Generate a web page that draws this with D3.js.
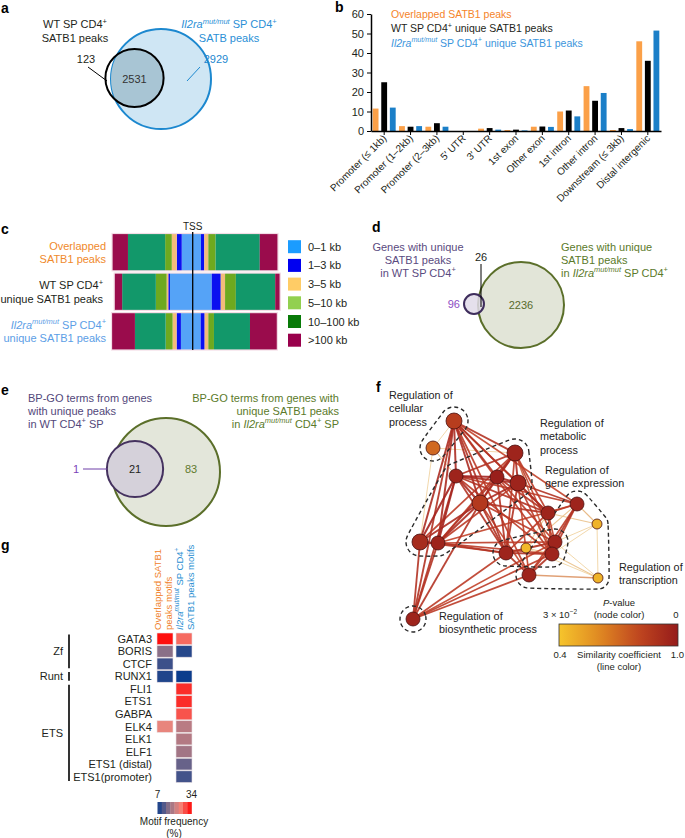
<!DOCTYPE html>
<html><head><meta charset="utf-8">
<script src="https://cdn.jsdelivr.net/npm/d3@7"></script>
<style>body{margin:0;background:#fff}svg{display:block;font-family:"Liberation Sans",Arial,Helvetica,sans-serif}</style>
</head><body><svg id="chart" width="685" height="838"></svg>
<script>
// ---------------- DATA ----------------
// a: Venn of SATB1 peaks  [only WT, overlap, only Il2ra mut]
const vennACounts = [123, 2531, 2929];
// b: genomic annotation (%)
const annotCategories = ["Promoter (\u2264 1kb)", "Promoter (1\u20132kb)", "Promoter (2\u20133kb)", "5\u2032 UTR", "3\u2032 UTR", "1st exon", "Other exon", "1st intron", "Other intron", "Downstream (\u2264 3kb)", "Distal intergenic"];
const annotSeriesNames = ["Overlapped SATB1 peaks", "WT SP CD4<sup>+</sup> unique SATB1 peaks", "<i>Il2ra</i><sup><i>mut/mut</i></sup> SP CD4<sup>+</sup> unique SATB1 peaks"];
const overlappedPct = [11.5, 2.5, 2.2, 0, 1.2, 0.5, 2.2, 10, 23, 0.5, 46];
const wtUniquePct = [25, 2.2, 4, 0, 1.5, 0.7, 2.3, 10.5, 15.5, 1.5, 36];
const mutUniquePct = [12, 2.5, 2.2, 0, 0.7, 0.3, 2.1, 7.5, 19.5, 1, 51.5];
const yTicksB = [0, 10, 20, 30, 40, 50, 60];
// c: distance to TSS (% of peaks), order 0-1,1-3,3-5,5-10,10-100,>100
const distCategories = ["0\u20131 kb", "1\u20133 kb", "3\u20135 kb", "5\u201310 kb", "10\u2013100 kb", ">100 kb"];
const distRows = ["Overlapped|SATB1 peaks", "WT SP CD4<sup>+</sup>|unique SATB1 peaks", "<i>Il2ra</i><sup><i>mut/mut</i></sup> SP CD4<sup>+</sup>|unique SATB1 peaks"];
const distUpstream = [[6.6, 3.0, 3.0, 4.0, 22.4, 9.6], [13.7, 1.0, 1.0, 6.5, 20.3, 4.8], [7.1, 2.6, 2.4, 4.2, 18.5, 14.1]];
const distDownstream = [[5.0, 2.0, 2.4, 4.4, 26.6, 11.0], [11.5, 5.4, 2.6, 6.5, 23.7, 3.0], [4.8, 2.4, 2.2, 3.4, 21.7, 16.5]];
// d: genes Venn [only WT, overlap, only mut]
const vennDCounts = [96, 26, 2236];
// e: BP-GO terms Venn [only WT, overlap, only mut]
const vennECounts = [1, 21, 83];
// f: GO network
const goNodeX = [54, 33, 115, 56, 97, 118, 80, 148, 177, 197, 20, 38, 106, 126, 155, 152, 129, 198, 13];
const goNodeY = [21, 48, 53, 76, 77, 83, 103, 113, 104, 124, 142, 143, 153, 148, 142, 154, 175, 178, 219];
const goNodeP = [0.008, 0.015, 0.002, 0.002, 0.001, 0.002, 0.007, 0.002, 0.002, 0.027, 0.004, 0.002, 0.002, 0.028, 0.002, 0.002, 0.002, 0.027, 0.002];
const goNodeSize = [64, 49, 64, 49, 49, 64, 64, 49, 49, 25, 64, 49, 49, 25, 49, 49, 49, 25, 49];
const goEdges = [
 [0,2,.85],[0,3,.9],[0,4,.85],[0,5,.85],[0,6,.9],[0,7,.8],[0,10,.9],[0,11,.9],[0,12,.85],[0,15,.8],[0,16,.8],[0,18,.85],[0,1,.45],[0,8,.75],
 [1,3,.5],[1,10,.45],[1,2,.45],
 [2,3,.85],[2,4,.9],[2,5,.9],[2,6,.85],[2,7,.8],[2,10,.8],[2,11,.8],[2,12,.8],[2,14,.75],[2,15,.7],
 [3,4,.95],[3,5,.9],[3,6,.9],[3,7,.85],[3,10,.95],[3,11,.95],[3,12,.85],[3,15,.8],[3,18,.85],[3,8,.8],
 [4,5,.95],[4,6,.9],[4,7,.85],[4,11,.85],[4,12,.85],[4,14,.8],
 [5,6,.9],[5,7,.9],[5,8,.85],[5,12,.85],[5,15,.8],[5,16,.75],[5,11,.8],
 [6,7,.85],[6,10,.9],[6,11,.9],[6,12,.85],[6,14,.8],[6,18,.85],[6,16,.75],
 [7,8,.8],[7,14,.75],[7,15,.8],[7,12,.8],[7,9,.5],[7,13,.5],
 [8,9,.55],[8,14,.85],[8,15,.8],[8,16,.8],[8,13,.5],[8,11,.75],
 [9,17,.45],[9,14,.45],[9,15,.45],
 [10,11,.95],[10,18,.85],[11,18,.85],[11,12,.85],[10,12,.8],[11,15,.8],[11,14,.8],
 [12,13,.5],[12,14,.85],[12,15,.85],[12,16,.85],[12,18,.8],
 [13,14,.5],[13,15,.5],[13,16,.45],[13,17,.45],
 [14,15,.95],[14,16,.8],[15,16,.85],[14,17,.45],[15,17,.5],
 [16,17,.6],[16,18,.8],[18,15,.8],[18,14,.75]
];
const goGroups = [[0,1],[2,3,4,5,6,10,11],[12,13,14,15],[8,9,16,17],[18]];
const goGroupLabels = ["Regulation of|cellular|process", "Regulation of|metabolic|process", "Regulation of|gene expression", "Regulation of|transcription", "Regulation of|biosynthetic process"];
// g: motif heatmap (motif frequency %)
const motifNames = ["GATA3", "BORIS", "CTCF", "RUNX1", "FLI1", "ETS1", "GABPA", "ELK4", "ELK1", "ELF1", "ETS1 (distal)", "ETS1(promoter)"];
const familyNames = ["Zf", "Runt", "ETS"];
const familyFirst = [0, 3, 4];
const familyLast = [2, 3, 11];
const overlappedMotifFreq = [33, 16, 10.5, 8.5, null, null, null, 24, null, null, null, null];
const mutMotifFreq = [27, 9, null, 7, 31, 31, 28.5, 20, 19.5, 18, 13.5, 11];

// ---------------- HELPERS ----------------
const svg = d3.select("#chart");
const INK = "#231f20";
const FS = 11;
function rich(t, str, fs) {
  const parts = str.split(/(<\/?i>|<\/?sup>)/);
  let it = false, sup = false, shifted = false;
  for (const p of parts) {
    if (p === "<i>") it = true; else if (p === "</i>") it = false;
    else if (p === "<sup>") sup = true; else if (p === "</sup>") sup = false;
    else if (p) {
      const ts = t.append("tspan").text(p);
      if (it) ts.attr("font-style", "italic");
      if (sup && !shifted) { ts.attr("dy", -fs * 0.4); shifted = true; }
      else if (!sup && shifted) { ts.attr("dy", fs * 0.4); shifted = false; }
      if (sup) ts.attr("font-size", fs * 0.68);
    }
  }
  return t;
}
function txt(g, x, y, str, o = {}) {
  const fs = o.size || FS;
  const t = g.append("text").attr("x", x).attr("y", y).attr("font-size", fs)
    .attr("fill", o.color || INK).attr("text-anchor", o.anchor || "start");
  if (o.weight) t.attr("font-weight", o.weight);
  if (o.transform) t.attr("transform", o.transform);
  rich(t, str, fs);
  return t;
}
function lines(g, x, y, str, lh, o) {
  str.split("|").forEach((s, i) => txt(g, x, y + i * lh, s, o));
}
function panelLabel(l, x, y) { txt(svg, x, y, l, { size: 14, weight: "bold", color: "#000" }); }

// ---------------- PANEL A ----------------
{
  const g = svg.append("g");
  panelLabel("a", 1, 13);
  const wtTotal = vennACounts[0] + vennACounts[1], mutTotal = vennACounts[1] + vennACounts[2];
  const r = d3.scalePow().exponent(0.75).domain([0, mutTotal]).range([0, 50]);
  const cMut = [161, 79], cWT = [134.5, 78];
  g.append("clipPath").attr("id", "clipA").append("circle").attr("cx", cMut[0]).attr("cy", cMut[1]).attr("r", r(mutTotal));
  g.append("circle").attr("cx", cMut[0]).attr("cy", cMut[1]).attr("r", r(mutTotal)).attr("fill", "#cfe6f4").attr("stroke", "#1c88cf").attr("stroke-width", 2);
  g.append("circle").attr("cx", cWT[0]).attr("cy", cWT[1]).attr("r", r(wtTotal)).attr("fill", "#a8c5d4").attr("clip-path", "url(#clipA)");
  g.append("circle").attr("cx", cWT[0]).attr("cy", cWT[1]).attr("r", r(wtTotal)).attr("fill", "none").attr("stroke", "#000").attr("stroke-width", 2);
  lines(g, 75, 28, "WT SP CD4<sup>+</sup>|SATB1 peaks", 14, { anchor: "middle" });
  lines(g, 229, 28, "<i>Il2ra</i><sup><i>mut/mut</i></sup> SP CD4<sup>+</sup>|SATB peaks", 14, { anchor: "middle", color: "#2a8fd6" });
  txt(g, 86, 63, String(vennACounts[0]), { anchor: "middle" });
  txt(g, cWT[0], 83, String(vennACounts[1]), { anchor: "middle", color: "#333" });
  txt(g, 216, 63, String(vennACounts[2]), { anchor: "middle", color: "#1c88cf" });
  g.append("line").attr("x1", 88).attr("y1", 67).attr("x2", 107).attr("y2", 81).attr("stroke", "#000").attr("stroke-width", 1);
  g.append("line").attr("x1", 200).attr("y1", 67).attr("x2", 187).attr("y2", 81).attr("stroke", "#1c88cf").attr("stroke-width", 1);
}

// ---------------- PANEL B ----------------
{
  const g = svg.append("g");
  panelLabel("b", 335, 12);
  const x = d3.scaleBand().domain(annotCategories).range([371, 661]);
  const y = d3.scaleLinear().domain([0, 60]).range([131, 14]);
  const sub = d3.scaleBand().domain([0, 1, 2]).range([-11.5, 11.5]).paddingInner(0.32);
  const series = [overlappedPct, wtUniquePct, mutUniquePct];
  const cols = ["#fba048", "#000000", "#1b7fc8"];
  series.forEach((s, si) => {
    g.selectAll(null).data(s).join("rect")
      .attr("x", (d, i) => x(annotCategories[i]) + x.bandwidth() / 2 + sub(si))
      .attr("width", sub.bandwidth())
      .attr("y", d => y(d)).attr("height", d => y(0) - y(d)).attr("fill", cols[si]);
  });
  const ya = g.append("g").attr("transform", "translate(371,0)").call(d3.axisLeft(y).tickValues(yTicksB).tickSize(4).tickSizeOuter(0));
  ya.select(".domain").attr("stroke-width", 1.5);
  ya.selectAll("text").attr("font-size", 11).attr("fill", INK).attr("font-family", "inherit");
  const xa = g.append("g").attr("transform", "translate(0,131)").call(d3.axisBottom(x).tickSize(4).tickSizeOuter(0).tickFormat(""));
  xa.select(".domain").attr("stroke-width", 1.5);
  annotCategories.forEach(c => {
    txt(g, 0, 0, c, { size: 10, anchor: "end", transform: `translate(${x(c) + x.bandwidth() / 2 + 3},139) rotate(-45)` });
  });
  const lc = ["#f5842a", INK, "#3b95dc"];
  annotSeriesNames.forEach((n, i) => txt(g, 391, 18 + i * 14.3, n, { size: 10.5, color: lc[i] }));
}

// ---------------- PANEL C ----------------
{
  const g = svg.append("g");
  panelLabel("c", 1, 234);
  const barCols = ["#55a3f7", "#0a10f0", "#f4bc7a", "#6ea91f", "#12986a", "#9a0c4c"];
  const legCols = ["#1b9cff", "#0000f0", "#ffcc66", "#92d050", "#087a08", "#99004c"];
  const w = d3.scaleLinear().domain([0, 100]).range([0, 166]);
  const yr = d3.scaleBand().domain([0, 1, 2]).range([233.5, 350]).paddingInner(0.055);
  const tssX = 192.7;
  distRows.forEach((rowName, ri) => {
    let xl = tssX;
    distUpstream[ri].forEach((v, k) => {
      g.append("rect").attr("x", xl - w(v)).attr("width", w(v)).attr("y", yr(ri)).attr("height", yr.bandwidth()).attr("fill", barCols[k]);
      xl -= w(v);
    });
    let xr = tssX;
    distDownstream[ri].forEach((v, k) => {
      g.append("rect").attr("x", xr).attr("width", w(v)).attr("y", yr(ri)).attr("height", yr.bandwidth()).attr("fill", barCols[k]);
      xr += w(v);
    });
    g.append("rect").attr("x", xl).attr("width", xr - xl).attr("y", yr(ri)).attr("height", yr.bandwidth())
      .attr("fill", "none").attr("stroke", "#f3dde6").attr("stroke-width", 1.2);
    const lc = ["#f08a2c", INK, "#5c9ee6"][ri];
    const rx = [106, 103, 106][ri];
    const yc = yr(ri) + yr.bandwidth() / 2;
    lines(g, rx, yc - 2.5, rowName, 13.5, { anchor: "end", color: lc });
  });
  g.append("line").attr("x1", tssX).attr("x2", tssX).attr("y1", 232).attr("y2", 350).attr("stroke", "#000").attr("stroke-width", 1.3);
  txt(g, tssX, 230, "TSS", { size: 10, anchor: "middle" });
  distCategories.forEach((c, k) => {
    const cy = 246.7 + k * 18.7;
    g.append("rect").attr("x", 288).attr("y", cy - 6.5).attr("width", 13).attr("height", 13).attr("fill", legCols[k]);
    txt(g, 308, cy + 4, c);
  });
}

// ---------------- PANEL D ----------------
{
  const g = svg.append("g");
  panelLabel("d", 372, 232);
  const r = d3.scaleSqrt().domain([0, vennDCounts[1] + vennDCounts[2]]).range([0, 43]);
  const cBig = [521, 305], cSm = [474, 304];
  g.append("circle").attr("cx", cBig[0]).attr("cy", cBig[1]).attr("r", r(vennDCounts[1] + vennDCounts[2])).attr("fill", "#e2e5d8").attr("stroke", "#5b6f2a").attr("stroke-width", 2);
  g.append("circle").attr("cx", cSm[0]).attr("cy", cSm[1]).attr("r", r(vennDCounts[0] + vennDCounts[1])).attr("fill", "#e0dbe9").attr("fill-opacity", 0.85).attr("stroke", "#3e2d5c").attr("stroke-width", 2);
  g.append("line").attr("x1", 481).attr("x2", 481).attr("y1", 264).attr("y2", 307).attr("stroke", "#000").attr("stroke-width", 1);
  txt(g, 481, 261, String(vennDCounts[1]), { anchor: "middle" });
  txt(g, 460, 308, String(vennDCounts[0]), { anchor: "end", color: "#8c4dc4" });
  txt(g, cBig[0], 309, String(vennDCounts[2]), { anchor: "middle", color: "#586a2c" });
  lines(g, 418, 251, "Genes with unique|SATB1 peaks|in WT SP CD4<sup>+</sup>", 12.8, { anchor: "middle", color: "#5a4a80" });
  lines(g, 561, 251, "Genes with unique|SATB1 peaks|in <i>Il2ra</i><sup><i>mut/mut</i></sup> SP CD4<sup>+</sup>", 12.8, { color: "#5b7a2a" });
}

// ---------------- PANEL E ----------------
{
  const g = svg.append("g");
  panelLabel("e", 1, 395);
  const r = d3.scalePow().exponent(0.42).domain([0, vennECounts[1] + vennECounts[2]]).range([0, 54]);
  const cBig = [166, 472], cSm = [135, 469];
  g.append("circle").attr("cx", cBig[0]).attr("cy", cBig[1]).attr("r", r(vennECounts[1] + vennECounts[2])).attr("fill", "#e3e6da").attr("stroke", "#5b6f2a").attr("stroke-width", 2);
  g.append("circle").attr("cx", cSm[0]).attr("cy", cSm[1]).attr("r", r(vennECounts[0] + vennECounts[1])).attr("fill", "#d5d1da").attr("stroke", "#45325f").attr("stroke-width", 2);
  g.append("line").attr("x1", 83).attr("x2", 107).attr("y1", 469).attr("y2", 469).attr("stroke", "#6e3fa8").attr("stroke-width", 1);
  txt(g, 79, 473, String(vennECounts[0]), { anchor: "end", color: "#7b3fb8" });
  txt(g, cSm[0], 473, String(vennECounts[1]), { anchor: "middle" });
  txt(g, 191, 473, String(vennECounts[2]), { anchor: "middle", color: "#5f7a2d" });
  lines(g, 28, 401.5, "BP-GO terms from genes|with unique peaks|in WT CD4<sup>+</sup> SP", 13, { color: "#52477a" });
  lines(g, 339, 401.5, "BP-GO terms from genes with|unique SATB1 peaks|in <i>Il2ra</i><sup><i>mut/mut</i></sup> CD4<sup>+</sup> SP", 13, { anchor: "end", color: "#5b7a2a" });
}

// ---------------- PANEL F ----------------
{
  const g = svg.append("g");
  panelLabel("f", 376, 392);
  const sx = d3.scaleLinear().domain([0, 100]).range([400, 500]);
  const sy = d3.scaleLinear().domain([0, 100]).range([400, 500]);
  const rs = d3.scaleSqrt().domain([0, 100]).range([0, 10]);
  const nodeCol = d3.scaleLinear().domain([0.03, 0.02, 0.01, 0]).range(["#f6c52c", "#e08a22", "#c0461f", "#951b1b"]);
  const edgeCol = d3.scaleLinear().domain([0.4, 0.55, 0.75, 1.0]).range(["#f3dfa8", "#e6b27a", "#c2432a", "#9d1c1c"]);
  const edgeW = d3.scaleLinear().domain([0.4, 1]).range([0.8, 2.2]);
  goEdges.slice().sort((a, b) => a[2] - b[2]).forEach(e => {
    g.append("line").attr("x1", sx(goNodeX[e[0]])).attr("y1", sy(goNodeY[e[0]]))
      .attr("x2", sx(goNodeX[e[1]])).attr("y2", sy(goNodeY[e[1]]))
      .attr("stroke", edgeCol(e[2])).attr("stroke-width", edgeW(e[2])).attr("stroke-opacity", 0.9);
  });
  goGroups.forEach(grp => {
    const pts = [];
    grp.forEach(i => {
      const rr = rs(goNodeSize[i]) + 6;
      for (let k = 0; k < 24; k++) { const a = k / 24 * 2 * Math.PI; pts.push([sx(goNodeX[i]) + rr * Math.cos(a), sy(goNodeY[i]) + rr * Math.sin(a)]); }
    });
    const h = d3.polygonHull(pts);
    g.append("path").attr("d", d3.line().curve(d3.curveCatmullRomClosed)(h)).attr("fill", "none")
      .attr("stroke", "#2a2a2a").attr("stroke-width", 1.4).attr("stroke-dasharray", "4,3");
  });
  goNodeX.forEach((xv, i) => {
    g.append("circle").attr("cx", sx(xv)).attr("cy", sy(goNodeY[i])).attr("r", rs(goNodeSize[i]))
      .attr("fill", nodeCol(goNodeP[i])).attr("stroke", "#4a1010").attr("stroke-width", 0.8);
  });
  const labPos = [[389, 399], [540, 427], [545, 474], [619, 571], [439, 620]];
  goGroupLabels.forEach((l, i) => lines(g, labPos[i][0], labPos[i][1], l, 13.3, { size: 10.8, color: "#222" }));
  const grad = svg.append("defs").append("linearGradient").attr("id", "gradF");
  d3.range(0, 1.0001, 0.1).forEach(t => grad.append("stop").attr("offset", t).attr("stop-color", nodeCol(0.03 * (1 - t))));
  g.append("rect").attr("x", 559).attr("y", 624).attr("width", 119).attr("height", 22).attr("fill", "url(#gradF)").attr("stroke", "#333").attr("stroke-width", 0.8);
  txt(g, 619, 606, "<i>P</i>-value", { size: 9.5, anchor: "middle" });
  txt(g, 619, 618, "(node color)", { size: 9.5, anchor: "middle" });
  txt(g, 560, 618, "3 \u00d7 10<sup>\u22122</sup>", { size: 9.5, anchor: "middle" });
  txt(g, 676, 618, "0", { size: 9.5, anchor: "middle" });
  txt(g, 560, 658, "0.4", { size: 9.5, anchor: "middle" });
  txt(g, 684, 658, "1.0", { size: 9.5, anchor: "end" });
  txt(g, 619, 658, "Similarity coefficient", { size: 9.5, anchor: "middle" });
  txt(g, 619, 670, "(line color)", { size: 9.5, anchor: "middle" });
}

// ---------------- PANEL G ----------------
{
  const g = svg.append("g");
  panelLabel("g", 1, 550);
  const y = d3.scaleBand().domain(motifNames).range([633, 782.5]).paddingInner(0.07);
  const cols = [157, 176], cw = 16;
  const col = d3.scaleLinear().domain([7, 16, 25, 34]).range(["#0b3c8c", "#8a7088", "#f4887c", "#ff0000"]);
  [overlappedMotifFreq, mutMotifFreq].forEach((arr, ci) => {
    arr.forEach((v, i) => {
      if (v == null) return;
      g.append("rect").attr("x", cols[ci]).attr("y", y(motifNames[i])).attr("width", cw).attr("height", y.bandwidth())
        .attr("fill", col(v)).attr("stroke", "#e9dfe3").attr("stroke-width", 0.6);
    });
  });
  motifNames.forEach(n => txt(g, 152, y(n) + y.bandwidth() / 2 + 4, n, { anchor: "end" }));
  familyNames.forEach((f, i) => {
    const y0 = y(motifNames[familyFirst[i]]) + 1.5, y1 = y(motifNames[familyLast[i]]) + y.bandwidth() - 1.5;
    g.append("line").attr("x1", 69).attr("x2", 69).attr("y1", y0).attr("y2", y1).attr("stroke", "#000").attr("stroke-width", 1.6);
    txt(g, 63, (y0 + y1) / 2 + 4, f, { anchor: "end" });
  });
  txt(g, 0, 0, "Overlapped SATB1", { size: 9.5, color: "#f07f2a", transform: "translate(161,630) rotate(-90)" });
  txt(g, 0, 0, "peaks motifs", { size: 9.5, color: "#f07f2a", transform: "translate(172,630) rotate(-90)" });
  txt(g, 0, 0, "<i>Il2ra</i><sup><i>mut/mut</i></sup> SP CD4<sup>+</sup>", { size: 9.5, color: "#2b8fd2", transform: "translate(183,630) rotate(-90)" });
  txt(g, 0, 0, "SATB1 peaks motifs", { size: 9.5, color: "#2b8fd2", transform: "translate(194,630) rotate(-90)" });
  const lx = d3.scaleLinear().domain([7, 34]).range([157.5, 191.5]);
  const steps = d3.range(7, 34, 27 / 8);
  steps.forEach(v => {
    g.append("rect").attr("x", lx(v)).attr("y", 802).attr("width", lx(v + 27 / 8) - lx(v) + 0.3).attr("height", 12).attr("fill", col(v + 27 / 16));
  });
  txt(g, lx(7), 798, "7", { size: 10, anchor: "middle" });
  txt(g, lx(34), 798, "34", { size: 10, anchor: "middle" });
  txt(g, 174, 825, "Motif frequency", { size: 10, anchor: "middle" });
  txt(g, 174, 837, "(%)", { size: 10, anchor: "middle" });
}
</script></body></html>
